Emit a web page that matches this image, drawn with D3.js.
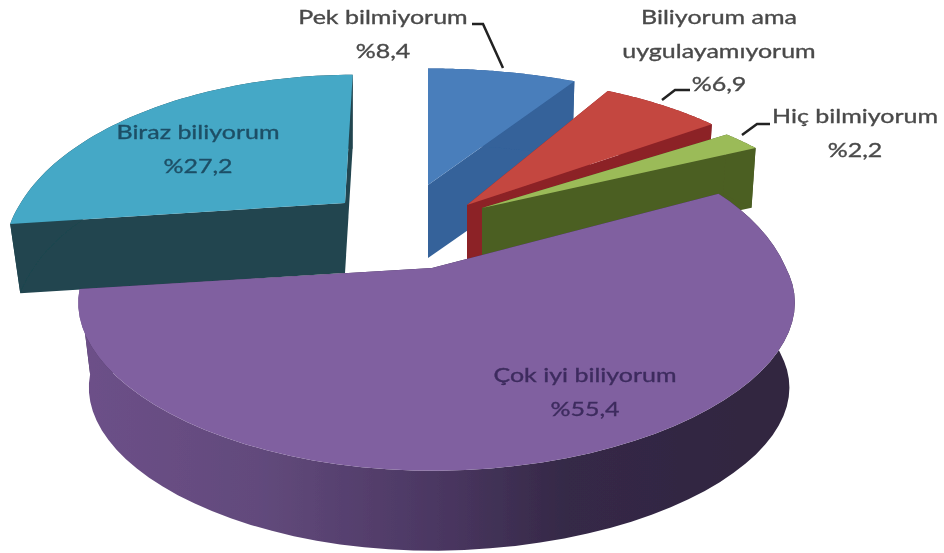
<!DOCTYPE html>
<html><head><meta charset="utf-8">
<script src="https://cdn.jsdelivr.net/npm/d3@7/dist/d3.min.js"></script>
<style>html,body{margin:0;background:#fff}svg{display:block}</style></head>
<body><svg id="c" width="944" height="553"></svg>
<script>
// Data, in pie order clockwise from 12 o'clock
const categories = ["Pek bilmiyorum","Biliyorum ama uygulayamıyorum","Hiç bilmiyorum","Çok iyi biliyorum","Biraz biliyorum"];
const values = [8.4,6.9,2.2,55.4,27.2];
const valueLabels = ["%8,4","%6,9","%2,2","%55,4","%27,2"];
const labelLines = [["Pek bilmiyorum"],["Biliyorum ama","uygulayamıyorum"],["Hiç bilmiyorum"],["Çok iyi biliyorum"],["Biraz biliyorum"]];
// Styling
const topColors = ["#4a7ebb","#c4463f","#9bbb59","#8060a0","#45a8c6"];
const sideColors = ["#34629a","#8c2227","#4c5e24","#3a2b50","#20454f"];
const textColors = ["#4a4a4a","#4a4a4a","#4a4a4a","#3d2c5e","#1e4f66"];
// Layout: exploded apex of each slice and its distortion
const apexX = [428,467,482,432,345];
const apexY = [185,205,208,268,203];
const scaleX = [1.04,1,1,1.026,0.94];
const leftX = [1,1,1,0.975,1];
const farY = [1,1.1,1,1.24,1.1];
const leanX = [0,0,0,0,0.06];
const perspX = [0.27,0.27,0.27,0.22,0.27];
const depths = [73,58,58,86,70];
const labelX = [383,719,855,585,198];
const labelY = [24,24,123,382,139];
const leaders = [[[472,24],[483,24],[503,68]],[[662,100],[675,90],[690,90]],[[742,135],[757,124],[770,124]]];

const W = 345, H = 148, T = 0.27, SHRINK = 0.97, SHRINK_R = 0.985, ROW = 33.5;
const svg = d3.select("#c");
const defs = svg.append("defs");
defs.append("filter").attr("id","soft").append("feGaussianBlur").attr("stdDeviation",0.6);
const g = defs.append("linearGradient").attr("id","purpleWall");
[[0,"#6d5089"],[0.25,"#624a7c"],[0.5,"#4b3762"],[0.68,"#352947"],[1,"#30253f"]].forEach(s=>g.append("stop").attr("offset",s[0]).attr("stop-color",s[1]));

const arcs = d3.pie().sort(null).value(d=>d)(values);
const line = d3.line();
const rel = (i,a,r)=>{
  const u = r*Math.sin(a), v = r*Math.cos(a);
  const y = -H*v/(1+T*v)*(v>0?farY[i]:1);
  return [W*u/(1+perspX[i]*v)*scaleX[i]*(u<0?leftX[i]:1) - leanX[i]*y, y];
};
const topPt = (i,a,r)=>{const q=rel(i,a,r);return [apexX[i]+q[0],apexY[i]+q[1]];};
const botPt = (i,a,r)=>{const q=rel(i,a,r);return [apexX[i]+q[0]*(q[0]>0?SHRINK_R:SHRINK),apexY[i]+q[1]*SHRINK+depths[i]];};
const angles = (d)=>d3.range(0,61).map(k=>d.startAngle+(d.endAngle-d.startAngle)*k/60);

const pie = svg.append("g").attr("filter","url(#soft)");
[4,0,1,2,3].forEach(i=>{
  const d = arcs[i], as = angles(d);
  const side = i===3 ? "url(#purpleWall)" : sideColors[i];
  const face = a=>[[apexX[i],apexY[i]],topPt(i,a,1),botPt(i,a,1),botPt(i,0,0)];
  pie.append("path").attr("d",line(face(d.startAngle))+"Z").attr("fill",sideColors[i]);
  pie.append("path").attr("d",line(face(d.endAngle))+"Z").attr("fill",sideColors[i]);
  const wall = as.map(a=>topPt(i,a,1)).concat(as.slice().reverse().map(a=>botPt(i,a,1)));
  pie.append("path").attr("d",line(wall)+"Z").attr("fill",side);
  const top = [[apexX[i],apexY[i]]].concat(as.map(a=>topPt(i,a,1)));
  pie.append("path").attr("d",line(top)+"Z").attr("fill",topColors[i]);
});

const ann = svg.append("g").attr("filter","url(#soft)");
leaders.forEach(l=>ann.append("path").attr("d",line(l)).attr("fill","none").attr("stroke","#222").attr("stroke-width",2.5));
categories.forEach((c,i)=>{
  const rows = labelLines[i].concat([valueLabels[i]]);
  rows.forEach((t,k)=>ann.append("text")
    .attr("transform",`translate(${labelX[i]},${labelY[i]+k*ROW}) scale(1.25,1)`)
    .attr("text-anchor","middle").attr("font-family","Lato, 'Open Sans', sans-serif").attr("font-size",20)
    .attr("fill",textColors[i]).attr("stroke",textColors[i]).attr("stroke-width",0.35).text(t));
});
</script></body></html>
